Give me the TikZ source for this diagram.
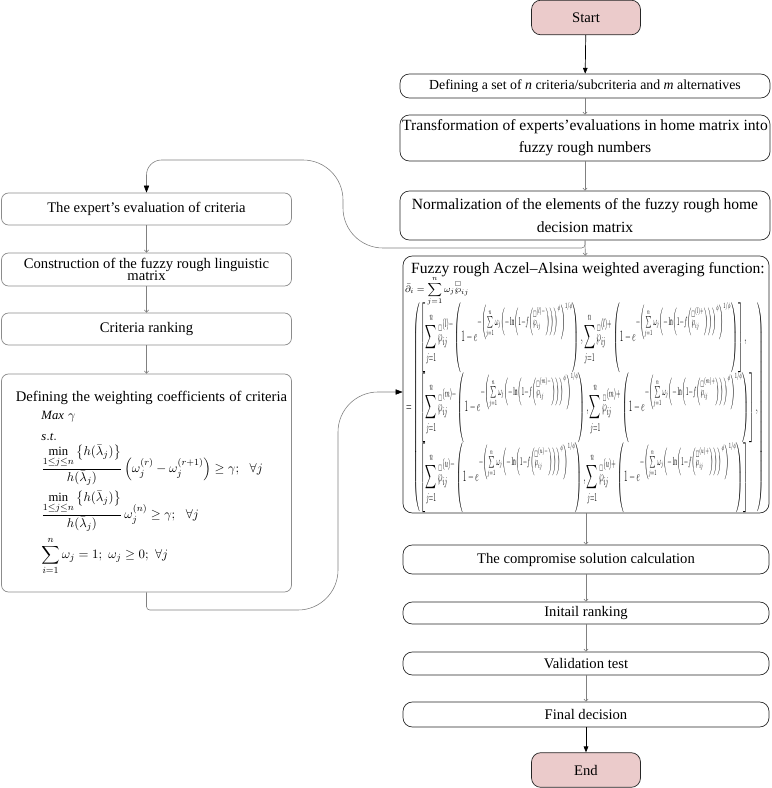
\documentclass[tikz,border=0pt]{standalone}
\usepackage{amsmath,amssymb}
\usepackage{fontspec}
\setmainfont{Liberation Serif}
\usetikzlibrary{arrows.meta}

\definecolor{termpink}{RGB}{235,203,203}
\newcommand{\boxfont}{\fontsize{12.5}{15}\selectfont}
\newcommand{\bigboxfont}{\fontsize{13.3}{15}\selectfont}
\newcommand{\fwp}{\overset{\scriptscriptstyle\square}{\wp}}
\newcommand{\aaexp}[1]{-\left(\sum\limits_{j=1}^{n}\omega_j\left(-\ln\left(1-f\left(\fwp_{ij}^{#1}\right)\right)\right)^{\phi}\right)^{1/\phi}}
\newcommand{\aaterm}[1]{\displaystyle\sum_{j=1}^{n}\fwp_{ij}^{#1}\left(1-e^{\aaexp{#1}}\right)}
\newcommand{\minfrac}{\frac{\min\limits_{1\le j\le n}\left\{h(\bar{\lambda}_j)\right\}}{h(\bar{\lambda}_j)}}

\begin{document}
\begin{tikzpicture}[x=0.03cm, y=-0.03cm,
    every node/.style={font=\boxfont},
    rbox/.style={draw=black!85, line width=0.6pt, rounded corners=8pt, minimum width=10.98cm, inner sep=1pt, align=center},
    lbox/.style={draw=black!45, line width=0.6pt, rounded corners=6pt, minimum width=8.7cm, inner sep=1pt, align=center},
    term/.style={rbox, fill=termpink, minimum width=3.27cm, minimum height=1.04cm},
    garrow/.style={draw=black!50, line width=0.5pt, -{To[length=2.5pt,width=4pt]}},
    barrow/.style={draw=black!50, line width=0.5pt, -{Triangle[length=6pt,width=4.5pt,color=black]}},
    karrow/.style={draw=black, line width=0.6pt, -{Triangle[length=5pt,width=4pt]}}]
    \useasboundingbox (0,0) rectangle (771,788);

    % right column
    \node[term] (start) at (586,17.5) {Start};
    \node[rbox, minimum width=11.1cm, minimum height=0.72cm, font=\fontsize{11.8}{14}\selectfont] (defset) at (585,86)
        {Defining a set of \textit{n} criteria/subcriteria and \textit{m} alternatives};
    \node[rbox, minimum width=11.1cm, minimum height=1.38cm, font=\bigboxfont] (trans) at (585,138)
        {Transformation of experts’evaluations in home matrix into\\[4pt] fuzzy rough numbers};
    \node[rbox, minimum width=11.1cm, minimum height=1.47cm, font=\bigboxfont] (norm) at (585,215.5)
        {Normalization of the elements of the fuzzy rough home\\[4pt] decision matrix};
    \node[rbox, minimum height=7.71cm] (aczel) at (586,384.5) {};
    \node[font=\bigboxfont] (aczeltitle) at (588,270) {Fuzzy rough Aczel--Alsina weighted averaging function:};
    \node[anchor=west, inner sep=0pt, font=\footnotesize] (aczeldef) at (405,291)
        {$\displaystyle\bar{\partial}_i=\sum_{j=1}^{n}\omega_j\fwp_{ij}$};
    \node[anchor=north west, inner sep=0pt] (aczelform) at (406,302)
        {\resizebox*{10.75cm}{6.3cm}{$\displaystyle=\left(\begin{array}{@{}l@{}}
            \left[\aaterm{(l)-},\aaterm{(l)+}\right],\\[2pt]
            \left[\aaterm{(m)-},\aaterm{(m)+}\right],\\[2pt]
            \left[\aaterm{(u)-},\aaterm{(u)+}\right]
        \end{array}\right)$}};
    \node[rbox, minimum height=0.87cm] (compr) at (586,559.5) {The compromise solution calculation};
    \node[rbox, minimum height=0.66cm] (initr) at (586,613) {Initail ranking};
    \node[rbox, minimum height=0.69cm] (valid) at (586,663.5) {Validation test};
    \node[rbox, minimum height=0.75cm] (final) at (586,714.5) {Final decision};
    \node[term] (end) at (586,770) {End};

    % left column
    \node[lbox, minimum height=0.96cm] (expert) at (146.5,209) {The expert's evaluation of criteria};
    \node[lbox, minimum height=0.99cm] (constr) at (146.5,269.5)
        {Construction of the fuzzy rough linguistic\\[-5pt] matrix};
    \node[lbox, minimum height=0.96cm] (crank) at (146.5,329) {Criteria ranking};
    \node[lbox, minimum height=6.54cm, align=left, text width=8.5cm, font=\fontsize{10.8}{14}\selectfont] (weight) at (146.5,483)
        {\hspace*{0.15cm}\makebox[8.5cm]{\boxfont Defining the weighting coefficients of criteria}\\[1pt]
        \hspace*{1.1cm}$\mathit{Max}\ \gamma$\\[4pt]
        \hspace*{1.1cm}$\mathit{s.t.}$\\[3pt]
        \hspace*{1.1cm}$\displaystyle\minfrac\left(\omega_j^{(r)}-\omega_j^{(r+1)}\right)\ge\gamma;\ \ \forall j$\\[4pt]
        \hspace*{1.1cm}$\displaystyle\minfrac\,\omega_j^{(n)}\ge\gamma;\ \ \forall j$\\[4pt]
        \hspace*{1.1cm}$\displaystyle\sum_{i=1}^{n}\omega_j=1;\ \omega_j\ge0;\ \forall j$};

    % connectors
    \draw[karrow] (start) -- (defset);
    \draw[garrow] (defset) -- (trans);
    \draw[garrow] (trans) -- (norm);
    \draw[garrow] (norm) -- (aczel);
    \draw[garrow] (aczel) -- (compr);
    \draw[garrow] (compr) -- (initr);
    \draw[garrow] (initr) -- (valid);
    \draw[garrow] (valid) -- (final);
    \draw[karrow] (final) -- (end);
    \draw[garrow] (expert) -- (constr);
    \draw[garrow] (constr) -- (crank);
    \draw[garrow] (crank) -- (weight);
    \draw[barrow] (norm.south) [rounded corners=0.1cm] -- (585,248)
        [rounded corners=1.2cm] -- (343,248) -- (343,160)
        [rounded corners=0.45cm] -- (146.5,160) -- (expert.north);
    \draw[barrow] (weight.south) [rounded corners=0.1cm] -- (146.5,610)
        [rounded corners=1.2cm] -- (338,610) -- (338,392)
        [sharp corners] -- ([yshift=-0.225cm]aczel.west);
\end{tikzpicture}
\end{document}
